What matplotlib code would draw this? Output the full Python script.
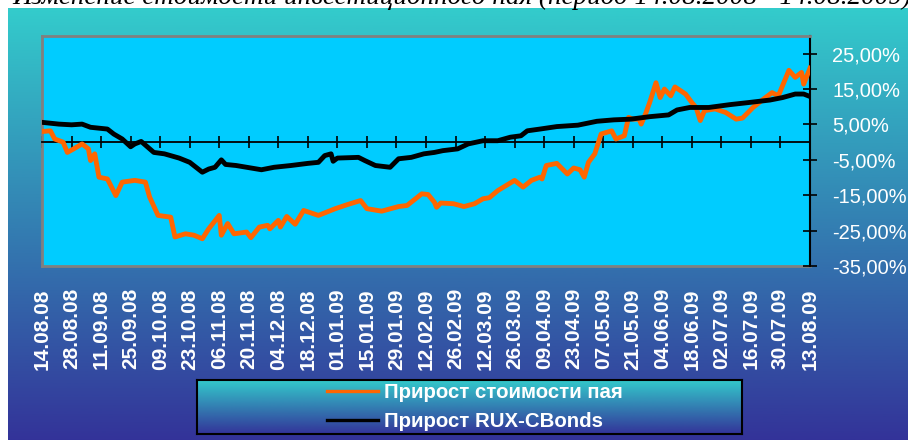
import numpy as np
import matplotlib
matplotlib.use('Agg')
import matplotlib.pyplot as plt
from matplotlib.colors import to_rgb
from matplotlib.lines import Line2D

plt.rcParams['font.family'] = ['Liberation Sans', 'DejaVu Sans']

title = 'Изменение стоимости инвестиционного пая (период 14.08.2008 - 14.08.2009)'

# days since 14.08.2008
pay_days = [0, 4, 6, 10, 12, 15, 19, 22, 23, 25,
            27, 31, 35, 38, 44, 49, 51, 55, 61, 63,
            68, 72, 76, 79, 84, 85, 88, 91, 97, 99,
            103, 107, 108, 112, 113, 116, 120, 124, 131, 139,
            145, 151, 154, 161, 169, 173, 180, 183, 186, 187,
            189, 195, 200, 205, 209, 212, 216, 224, 228, 232,
            236, 237, 239, 244, 249, 252, 255, 257, 259, 262,
            265, 270, 272, 276, 278, 280, 283, 284, 286, 288,
            291, 293, 295, 298, 300, 305, 308, 310, 312, 314,
            319, 324, 329, 332, 337, 342, 346, 349, 354, 357,
            360, 361, 364]
pay_vals = [3.0, 3.2, 0.9, 0.0, -2.9, -1.9, -0.5, -1.9, -5.2, -3.3,
            -9.9, -10.4, -15.1, -11.3, -10.8, -11.3, -15.5, -20.7, -21.2, -26.8,
            -25.9, -26.3, -27.3, -24.5, -20.7, -26.3, -23.0, -25.9, -25.4, -27.0,
            -24.0, -23.5, -24.5, -22.1, -24.0, -21.0, -23.2, -19.3, -20.7, -18.8,
            -17.6, -16.5, -18.8, -19.5, -18.2, -17.9, -14.6, -14.8, -17.0, -18.4,
            -17.2, -17.4, -18.2, -17.4, -16.0, -15.7, -13.7, -10.8, -12.7, -10.8,
            -9.9, -10.4, -6.6, -6.0, -9.0, -7.3, -7.8, -9.9, -5.7, -3.3,
            2.3, 3.2, 0.9, 1.8, 7.0, 6.5, 6.5, 5.1, 7.9, 11.2,
            16.8, 12.6, 15.0, 13.1, 15.6, 13.6, 11.2, 9.8, 6.1, 8.9,
            9.4, 8.4, 6.5, 6.8, 9.8, 12.2, 14.0, 13.1, 20.3, 18.3,
            19.7, 16.4, 20.9]

rux_days = [0, 8, 14, 19, 23, 31, 34, 38, 42, 44,
            47, 53, 58, 65, 70, 76, 79, 82, 85, 87,
            92, 97, 104, 110, 118, 126, 131, 134, 137, 138,
            140, 150, 153, 158, 165, 169, 175, 181, 186, 190,
            197, 202, 209, 216, 222, 227, 230, 236, 244, 254,
            263, 271, 279, 288, 297, 301, 307, 316, 326, 335,
            345, 351, 357, 361, 364]
rux_vals = [5.6, 5.1, 4.9, 5.1, 4.2, 3.7, 2.3, 0.9, -1.3, -0.5,
            0.2, -2.9, -3.3, -4.5, -5.7, -8.5, -7.6, -7.1, -5.0, -6.3,
            -6.6, -7.1, -7.8, -7.1, -6.6, -6.0, -5.7, -3.8, -3.3, -5.4,
            -4.5, -4.3, -5.2, -6.6, -7.1, -4.7, -4.3, -3.3, -2.9, -2.4,
            -1.9, -0.5, 0.4, 0.4, 1.4, 1.8, 3.2, 3.7, 4.4, 4.8,
            5.9, 6.3, 6.5, 7.2, 7.7, 9.1, 9.8, 9.8, 10.6, 11.2,
            11.9, 12.6, 13.6, 13.6, 12.9]

tick_labels = ['14.08.08', '28.08.08', '11.09.08', '25.09.08', '09.10.08', '23.10.08',
               '06.11.08', '20.11.08', '04.12.08', '18.12.08', '01.01.09', '15.01.09',
               '29.01.09', '12.02.09', '26.02.09', '12.03.09', '26.03.09', '09.04.09',
               '23.04.09', '07.05.09', '21.05.09', '04.06.09', '18.06.09', '02.07.09',
               '16.07.09', '30.07.09', '13.08.09']
y_ticks = [-35, -25, -15, -5, 5, 15, 25]
legend_labels = ['Прирост стоимости пая', 'Прирост RUX-CBonds']

W, H = 908, 440
fig = plt.figure(figsize=(W / 100, H / 100), dpi=100)


def gradient(c_top, c_bot, n=256):
    a, b = np.array(to_rgb(c_top)), np.array(to_rgb(c_bot))
    t = np.linspace(0, 1, n)[:, None]
    return (a + (b - a) * t)[:, None, :]


# chart area background
bg = fig.add_axes([8 / W, 0, 1 - 8 / W, 1 - 8 / H], zorder=-5)
bg.imshow(gradient('#33CCCC', '#333399'), aspect='auto', extent=(0, 1, 0, 1))
bg.axis('off')

fig.text(12 / W, 1 - 4.5 / H, title, fontsize=19.5, family='Liberation Serif',
         style='italic', va='baseline', ha='left', color='black')

ax = fig.add_axes([42 / W, 1 - 266 / H, 768 / W, 230 / H])
ax.set_facecolor('#00CCFF')
ax.plot(pay_days, pay_vals, color='#FF6600', lw=3.5, zorder=3, solid_joinstyle='round')
ax.plot(rux_days, rux_vals, color='black', lw=3.5, zorder=4, solid_joinstyle='round')

ax.set_xlim(0, 364)
ax.set_ylim(-35, 30)
tick_pos = np.arange(len(tick_labels)) * 14

for s in ['top', 'left']:
    ax.spines[s].set_color('#808080')
    ax.spines[s].set_linewidth(2)
ax.spines['right'].set_color('black')
ax.spines['right'].set_linewidth(1.5)
ax.spines['bottom'].set_position(('data', 0))
ax.spines['bottom'].set_color('black')
ax.spines['bottom'].set_linewidth(1.3)

ax.set_xticks(tick_pos)
ax.tick_params(axis='x', direction='inout', length=9, width=1.2,
               labelbottom=False, color='black')

ax.yaxis.tick_right()
ax.set_yticks(y_ticks)
ax.set_yticklabels([f'{v:.2f}%'.replace('.', ',') for v in y_ticks])
ax.tick_params(axis='y', direction='inout', length=10, width=1.2, pad=11,
               labelcolor='white', labelsize=14.5)

sec = ax.secondary_xaxis('bottom')
sec.set_xticks(tick_pos, labels=tick_labels)
sec.tick_params(length=0, pad=16, labelcolor='white', labelsize=15, labelrotation=90)
for lbl in sec.get_xticklabels():
    lbl.set_fontweight('bold')
sec.spines['bottom'].set_color('#808080')
sec.spines['bottom'].set_linewidth(2)

# legend box with its own gradient
lax = fig.add_axes([197 / W, 1 - 434 / H, 545 / W, 54 / H])
lax.imshow(gradient('#33CCCC', '#333399'), aspect='auto', extent=(0, 1, 0, 1))
lax.set_xticks([])
lax.set_yticks([])
for s in lax.spines.values():
    s.set_color('black')
    s.set_linewidth(1.5)
handles = [Line2D([], [], color='#FF6600', lw=2.4), Line2D([], [], color='black', lw=2.4)]
lax.legend(handles, legend_labels, loc='center', bbox_to_anchor=(0.51, 0.5),
           frameon=False, labelcolor='white', handlelength=2.5,
           handletextpad=0.3, labelspacing=0.5, borderpad=0.15,
           prop={'weight': 'bold', 'size': 14.7})

fig.savefig('out.png', dpi=100)
